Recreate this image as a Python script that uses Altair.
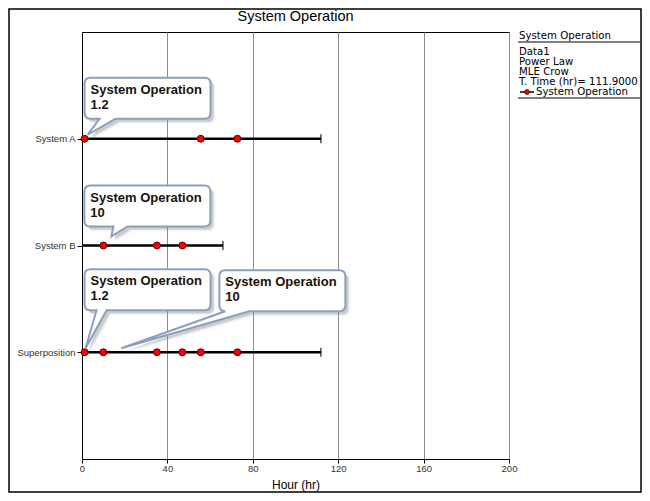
import altair as alt
import pandas as pd

# ---------------- data ----------------
chart_title = "System Operation"
systems = ["System A", "System B", "Superposition"]
end_times = [111.9, 66.0, 111.9]
failures_a = [1.2, 55.6, 72.8]
failures_b = [10.0, 35.1, 47.0]
failures_super = sorted(failures_a + failures_b)

x_ticks = [0, 40, 80, 120, 160, 200]

callout_systems = ["System A", "System B", "Superposition", "Superposition"]
callout_times = [1.2, 10.0, 1.2, 10.0]
callout_values = ["1.2", "10", "1.2", "10"]

legend_title = "System Operation"
legend_lines = ["Data1", "Power Law", "MLE Crow", "T. Time (hr)= 111.9000"]
legend_series = "System Operation"

# ---------------- tables ----------------
lines_df = pd.DataFrame({"system": systems, "start": [0.0] * 3, "end": end_times})
pts_df = pd.DataFrame(
    {"system": ["System A"] * len(failures_a) + ["System B"] * len(failures_b)
     + ["Superposition"] * len(failures_super),
     "time": failures_a + failures_b + failures_super}
)

FONT = "Liberation Sans"
LFONT = "DejaVu Sans"
W, H = 427, 427

xscale = alt.Scale(domain=[0, 200], nice=False, zero=False)
xaxis = alt.Axis(values=x_ticks, title="Hour (hr)", grid=True, format="d")
yscale = alt.Scale(type="point", domain=systems, padding=1)


def X(field):
    return alt.X(field, type="quantitative", scale=xscale, axis=xaxis, title="Hour (hr)")


def Y():
    return alt.Y("system:N", scale=yscale, sort=systems, axis=alt.Axis(title=None))


base_lines = alt.Chart(lines_df)

rules = base_lines.mark_rule(color="black", strokeWidth=2.6).encode(
    x=X("start"), x2="end:Q", y=Y()
)
ends = base_lines.mark_tick(orient="vertical", color="black", size=9, thickness=1.5).encode(
    x=X("end"), y=Y()
)
points = alt.Chart(pts_df).mark_point(
    filled=True, fill="#ff0000", stroke="#5a0000", strokeWidth=1, size=48, opacity=1
).encode(x=X("time"), y=Y())


# bubble geometry (pixel offsets from the anchored data point): style only
def bubble_path(x0, y0, w, h, bx1, bx2, tx, ty, r=6, dx=0, dy=0):
    x1, y1 = x0 + w, y0 + h
    x0, x1, bx1, bx2, tx = x0 + dx, x1 + dx, bx1 + dx, bx2 + dx, tx + dx
    y0, y1, ty = y0 + dy, y1 + dy, ty + dy
    return (
        f"M{x0 + r},{y0} H{x1 - r} Q{x1},{y0} {x1},{y0 + r} V{y1 - r} "
        f"Q{x1},{y1} {x1 - r},{y1} H{bx2} L{tx},{ty} L{bx1},{y1} H{x0 + r} "
        f"Q{x0},{y1} {x0},{y1 - r} V{y0 + r} Q{x0},{y0} {x0 + r},{y0} Z"
    )


bubble_geom = [
    # x0, y0, w, h, base1, base2, tipx, tipy
    (0, -61, 126, 41, 15, 31, 3, -4),
    (-19, -60, 126, 41, 10, 24, 8, -9),
    (0, -83, 126, 41, 12, 22, 1, -4),
    (116, -82, 126, 41, 122, 146, 18, -4),
]

bubble_layers = []
for sysname, t, val, g in zip(callout_systems, callout_times, callout_values, bubble_geom):
    df = pd.DataFrame({"system": [sysname], "time": [t],
                       "label": [f"System Operation\n{val}"]})
    base = alt.Chart(df)
    shadow1 = base.mark_point(
        shape=bubble_path(*g, dx=4, dy=4), size=4, filled=True, fill="#9a9a9a",
        opacity=0.22, stroke="#9a9a9a", strokeWidth=4, strokeOpacity=0.15,
    ).encode(x=X("time"), y=Y())
    shadow2 = base.mark_point(
        shape=bubble_path(*g, dx=3, dy=3), size=4, filled=True, fill="#8a8a8a",
        opacity=0.3, strokeWidth=0,
    ).encode(x=X("time"), y=Y())
    bubble = base.mark_point(
        shape=bubble_path(*g), size=4, filled=True, fill="white", opacity=1,
        stroke="#8aa0bf", strokeWidth=2,
    ).encode(x=X("time"), y=Y())
    text = base.mark_text(
        align="left", baseline="middle", lineBreak="\n", lineHeight=15,
        dx=g[0] + 6, dy=g[1] + 12, font=FONT, fontSize=13, fontWeight="bold",
        color="#1a1208",
    ).encode(x=X("time"), y=Y(), text="label:N")
    bubble_layers += [shadow1, shadow2, bubble, text]

# ---------------- title and legend (outside plot area) ----------------
one = pd.DataFrame({"k": [0]})
title_mark = alt.Chart(pd.DataFrame({"t": [chart_title]})).mark_text(
    align="center", baseline="middle", font=FONT, fontSize=14.5, color="black"
).encode(x=alt.value(W / 2), y=alt.value(-15), text="t:N")

LX = 437
leg = []
leg.append(alt.Chart(pd.DataFrame({"t": [legend_title]})).mark_text(
    align="left", baseline="middle", font=LFONT, fontSize=10.2, color="black"
).encode(x=alt.value(LX), y=alt.value(4), text="t:N"))
leg.append(alt.Chart(one).mark_rule(color="black", strokeWidth=1).encode(
    x=alt.value(LX - 1), x2=alt.value(W + 131), y=alt.value(10)))
for i, line in enumerate(legend_lines):
    leg.append(alt.Chart(pd.DataFrame({"t": [line]})).mark_text(
        align="left", baseline="middle", font=LFONT, fontSize=10.2, color="black"
    ).encode(x=alt.value(LX), y=alt.value(20 + 10 * i), text="t:N"))
leg.append(alt.Chart(one).mark_rule(color="black", strokeWidth=1.5).encode(
    x=alt.value(LX + 1), x2=alt.value(LX + 15), y=alt.value(60)))
leg.append(alt.Chart(one).mark_point(
    filled=True, fill="#ff0000", stroke="#5a0000", strokeWidth=1, size=22, opacity=1
).encode(x=alt.value(LX + 8), y=alt.value(60)))
leg.append(alt.Chart(pd.DataFrame({"t": [legend_series]})).mark_text(
    align="left", baseline="middle", font=LFONT, fontSize=10.2, color="black"
).encode(x=alt.value(LX + 17), y=alt.value(60), text="t:N"))
leg.append(alt.Chart(one).mark_rule(color="black", strokeWidth=1).encode(
    x=alt.value(LX - 1), x2=alt.value(W + 131), y=alt.value(66)))

# outer frame
frame = alt.Chart(one).mark_rect(filled=False, stroke="black", strokeWidth=1.5).encode(
    x=alt.value(-73), x2=alt.value(W + 132), y=alt.value(-23), y2=alt.value(H + 33)
)

chart = alt.layer(rules, ends, points, *bubble_layers, title_mark, *leg, frame).properties(
    width=W,
    height=H,
    padding={"left": 74, "top": 24, "right": 133, "bottom": 34},
    autosize=alt.AutoSizeParams(type="none"),
).configure_view(stroke="black", strokeWidth=1).configure_axis(
    labelFont=FONT, titleFont=FONT, domainColor="black", tickColor="black",
    labelColor="#333333", titleColor="black", titleFontWeight="normal",
).configure_axisX(
    grid=True, gridColor="#8c8c8c", gridOpacity=1, gridWidth=1, labelFontSize=9.5,
    tickSize=4, labelPadding=0, titleFontSize=12, titlePadding=7, labelFlush=False,
).configure_axisY(
    grid=False, labelFontSize=9.5, tickSize=5, labelPadding=2,
)

chart.save("out.html", embed_options={"renderer": "svg", "actions": False})
